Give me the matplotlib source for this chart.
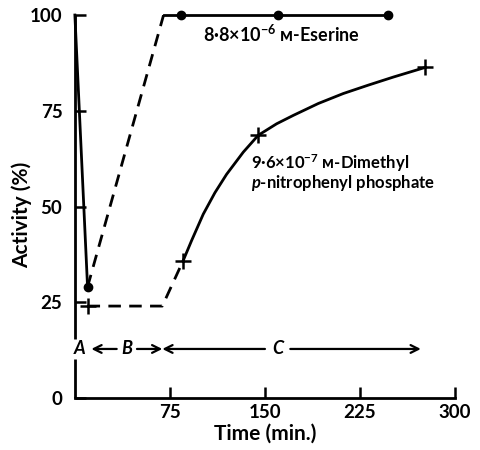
import numpy as np
import matplotlib.pyplot as plt

# eserine: measured points (dots) and the recovery leg
eserine_t = [0, 10]
eserine_act = [100, 29]
eserine_dash_t = [10, 70]
eserine_dash_act = [29, 100]
eserine_plateau_t = [70, 84, 160, 247]
eserine_plateau_act = [100, 100, 100, 100]
eserine_dot_t = [10, 84, 160, 247]
eserine_dot_act = [29, 100, 100, 100]

# dimethyl p-nitrophenyl phosphate
dmp_dash_t = [10, 69, 85.5]
dmp_dash_act = [24, 24, 35.9]
dmp_curve_t = [85.5, 92.1, 101.3, 110.5, 119.7, 132.9, 144.7, 159.2,
               172.4, 192.1, 211.8, 231.6, 251.3, 276.3]
dmp_curve_act = [35.9, 41.1, 48.0, 53.6, 58.4, 64.2, 68.6, 71.6,
                 73.8, 76.9, 79.5, 81.7, 83.8, 86.3]
dmp_cross_t = [10, 85.5, 144.7, 276.3]
dmp_cross_act = [24, 35.9, 68.6, 86.3]

# axis ticks
x_ticks = [75, 150, 225, 300]
x_tick_labels = ["75", "150", "225", "300"]
y_ticks = [0, 25, 50, 75, 100]
y_tick_labels = ["0", "25", "50", "75", "100"]

# phase arrows (time positions)
phase_labels = ["A", "B", "C"]
phase_x = [4, 41, 160]
phase_y = 12.8

plt.rcParams['font.family'] = ['Lato', 'DejaVu Sans']
plt.rcParams['font.weight'] = 'bold'
plt.rcParams['axes.labelweight'] = 'bold'
plt.rcParams['mathtext.fontset'] = 'custom'
plt.rcParams['mathtext.rm'] = 'Lato:bold'
plt.rcParams['mathtext.it'] = 'Lato:bold:italic'
plt.rcParams['mathtext.bf'] = 'Lato:bold'

fig = plt.figure(figsize=(4.8, 4.5), dpi=100)
ax = fig.add_axes([0.156, 0.1156, 0.792, 0.851])

ax.plot(eserine_t, eserine_act, color="black", lw=2, clip_on=False)
ax.plot(eserine_dash_t, eserine_dash_act, color="black", lw=2, ls=(0, (4.5, 3)))
ax.plot(eserine_plateau_t, eserine_plateau_act, color="black", lw=2, clip_on=False)
ax.plot(eserine_dot_t, eserine_dot_act, "o", color="black", ms=6, clip_on=False)

ax.plot(dmp_dash_t, dmp_dash_act, color="black", lw=2, ls=(0, (4.5, 3)))
ax.plot(dmp_curve_t, dmp_curve_act, color="black", lw=2)
ax.plot(dmp_cross_t, dmp_cross_act, "+", color="black", ms=12, mew=1.8)

# phase arrows
arrow = dict(arrowstyle="->", color="black", lw=1.6, mutation_scale=14,
             shrinkA=0, shrinkB=0)
ax.annotate("", xy=(13, phase_y), xytext=(33, phase_y), arrowprops=arrow)
ax.annotate("", xy=(69, phase_y), xytext=(49, phase_y), arrowprops=arrow)
ax.annotate("", xy=(69, phase_y), xytext=(150, phase_y), arrowprops=arrow)
ax.annotate("", xy=(273, phase_y), xytext=(170, phase_y), arrowprops=arrow)
for lab, x in zip(phase_labels, phase_x):
    ax.text(x, phase_y, lab, ha="center", va="center", fontsize=13,
            style="italic")

ax.text(101, 95.0, "8·8×10$^{-6}$ ᴍ-Eserine", fontsize=13,
        ha="left", va="center")
ax.text(139, 58.8, "9·6×10$^{-7}$ ᴍ-Dimethyl\n$p$-nitrophenyl phosphate",
        fontsize=12, ha="left", va="center", linespacing=0.95)

ax.set_xlim(0, 300)
ax.set_ylim(0, 100)
ax.set_xticks(x_ticks, labels=x_tick_labels, fontweight="bold")
ax.set_yticks(y_ticks, labels=y_tick_labels, fontweight="bold")
ax.tick_params(direction="in", length=8, width=1.8, labelsize=13.5)
ax.tick_params(axis="x", pad=4)
ax.tick_params(axis="y", pad=9)
ax.spines["top"].set_visible(False)
ax.spines["right"].set_visible(False)
ax.spines["left"].set_visible(False)
ax.spines["bottom"].set_linewidth(2)
ax.set_xlabel("Time (min.)", fontsize=15, labelpad=2)
ax.set_ylabel("Activity (%)", fontsize=15)
ax.yaxis.set_label_coords(-0.113, 0.478)

# y axis drawn in two pieces, broken around the "A" label
ax.plot([0, 0], [0, 10.2], color="black", lw=2, clip_on=False,
        solid_capstyle="butt")
ax.plot([0, 0], [15.4, 100], color="black", lw=2, clip_on=False,
        solid_capstyle="butt")

fig.savefig("out.png", dpi=100)
